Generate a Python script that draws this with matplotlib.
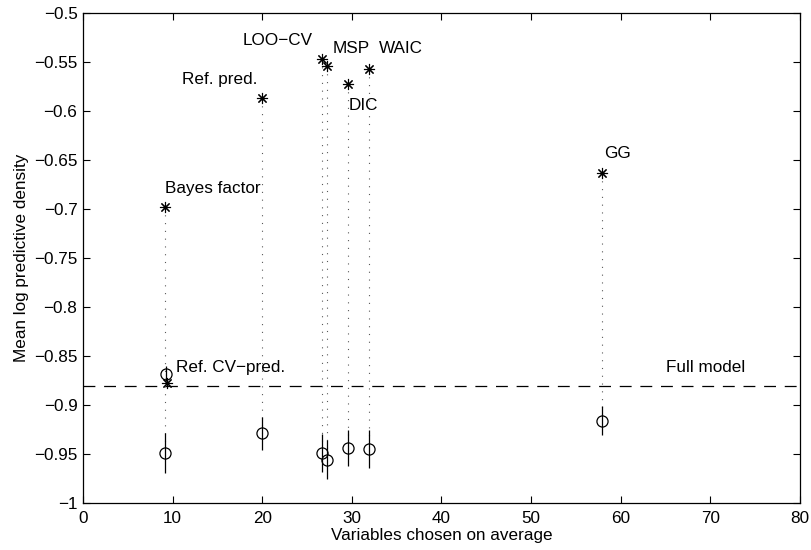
import matplotlib
matplotlib.use("Agg")
import matplotlib.pyplot as plt

plt.rcParams['font.family'] = ['Liberation Sans', 'DejaVu Sans']

methods = ["Bayes factor", "Ref. CV\u2212pred.", "Ref. pred.", "LOO\u2212CV", "MSP", "DIC", "WAIC", "GG"]
n_vars = [9.2, 9.4, 20.0, 26.7, 27.2, 29.6, 31.9, 57.9]
est_lpd = [-0.698, -0.878, -0.587, -0.547, -0.554, -0.573, -0.557, -0.663]
test_x = [9.2, 9.3, 20.0, 26.7, 27.2, 29.6, 31.9, 57.9]
test_lpd = [-0.949, -0.868, -0.929, -0.949, -0.956, -0.944, -0.945, -0.916]
test_err = [0.020, 0.008, 0.017, 0.019, 0.020, 0.018, 0.019, 0.015]
full_model = -0.881

label_pos = {
    "Bayes factor": (9.15, -0.6837),
    "Ref. CV\u2212pred.": (10.4, -0.8663),
    "Ref. pred.": (11.05, -0.5724),
    "LOO\u2212CV": (17.86, -0.5327),
    "MSP": (27.9, -0.5408),
    "DIC": (29.6, -0.599),
    "WAIC": (33.04, -0.5408),
    "GG": (58.2, -0.6485),
}
full_label_pos = (65.07, -0.8663)

FS = 12.3

fig = plt.figure(figsize=(8.12, 5.5), dpi=100)
ax = fig.add_axes([0.1022, 0.0855, 0.883, 0.891])

ax.axhline(full_model, color='black', lw=0.9, dashes=(9.5, 7))

for i in range(len(methods)):
    ax.plot([n_vars[i], test_x[i]], [est_lpd[i], test_lpd[i]], color='0.35', lw=0.8,
            linestyle=(0, (1, 6)))

ax.errorbar(test_x, test_lpd, yerr=test_err, fmt='o', mfc='none', mec='black',
            ecolor='black', ms=8, mew=0.9, elinewidth=0.9, capsize=0)
ax.plot(n_vars, est_lpd, linestyle='none', marker=(8, 2, 0), ms=8, mec='black',
        mew=0.8, color='black')

for m in methods:
    x, y = label_pos[m]
    ax.text(x, y, m, fontsize=FS, ha='left', va='baseline')
ax.text(full_label_pos[0], full_label_pos[1], "Full model", fontsize=FS, ha='left', va='baseline')

ax.set_xlim(0, 80)
ax.set_ylim(-1, -0.5)
ax.set_xticks(range(0, 81, 10))
yt = [-1, -0.95, -0.9, -0.85, -0.8, -0.75, -0.7, -0.65, -0.6, -0.55, -0.5]
ax.set_yticks(yt)
ax.set_yticklabels(["\u22121" if v == -1 else ("\u2212%g" % (-v)) for v in yt])
ax.tick_params(direction='in', top=True, right=True, labelsize=FS, length=5, width=0.8)
ax.tick_params(axis='x', pad=6)
ax.tick_params(axis='y', pad=4)
for s in ax.spines.values():
    s.set_linewidth(0.9)
ax.set_xlabel("Variables chosen on average", fontsize=FS, labelpad=1)
ax.set_ylabel("Mean log predictive density", fontsize=FS, labelpad=4)

fig.savefig("out.png", dpi=100)
